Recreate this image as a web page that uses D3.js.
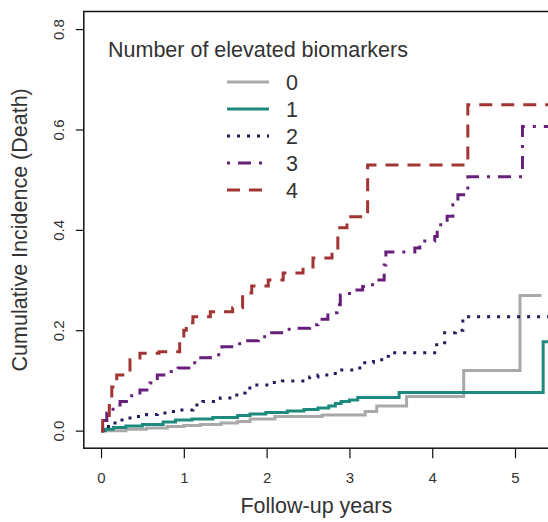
<!DOCTYPE html>
<html>
<head>
<meta charset="utf-8">
<script src="https://cdn.jsdelivr.net/npm/d3@7"></script>
<style>
  html, body { margin: 0; padding: 0; background: #ffffff; }
  svg { display: block; }
  text { font-family: "Liberation Sans", Arial, sans-serif; }
</style>
</head>
<body>
<svg id="chart" width="548" height="522"></svg>
<script>
// ---------------- data ----------------
const groupLabels = ["0", "1", "2", "3", "4"];
const legendTitle = "Number of elevated biomarkers";
const xTicks = [0, 1, 2, 3, 4, 5];
const yTicks = [0, 0.2, 0.4, 0.6, 0.8];
const xTitle = "Follow-up years";
const yTitle = "Cumulative Incidence (Death)";

// group 0 (grey)
const times0 = [0, 0.3, 0.55, 0.8, 1.0, 1.2, 1.45, 1.65, 1.8, 2.1, 2.67, 3.19, 3.33, 3.69, 4.38, 5.06, 5.32];
const cif0   = [0, 0.003, 0.005, 0.008, 0.010, 0.012, 0.015, 0.018, 0.023, 0.028, 0.031, 0.038, 0.049, 0.068, 0.120, 0.269, 0.269];
// group 1 (teal)
const times1 = [0, 0.05, 0.15, 0.3, 0.5, 0.75, 0.9, 1.1, 1.35, 1.65, 1.8, 1.99, 2.25, 2.45, 2.62, 2.75, 2.83, 2.9, 3.0, 3.1, 3.6, 5.34, 5.6];
const cif1   = [0, 0.003, 0.006, 0.009, 0.012, 0.017, 0.021, 0.023, 0.026, 0.030, 0.033, 0.036, 0.039, 0.042, 0.045, 0.049, 0.054, 0.058, 0.061, 0.066, 0.076, 0.177, 0.177];
// group 2 (navy, dotted)
const times2 = [0, 0.05, 0.11, 0.23, 0.33, 0.43, 0.55, 0.68, 0.8, 0.92, 1.11, 1.23, 1.44, 1.64, 1.74, 1.82, 2.07, 2.19, 2.52, 2.62, 2.77, 2.86, 3.1, 3.16, 3.29, 3.39, 3.47, 4.03, 4.15, 4.28, 4.37, 5.6];
const cif2   = [0, 0.008, 0.015, 0.021, 0.025, 0.028, 0.032, 0.035, 0.038, 0.041, 0.051, 0.058, 0.065, 0.075, 0.085, 0.091, 0.096, 0.099, 0.107, 0.111, 0.114, 0.121, 0.125, 0.135, 0.141, 0.148, 0.155, 0.171, 0.195, 0.200, 0.227, 0.227];
// group 3 (purple, dot-dash)
const times3 = [0, 0.03, 0.07, 0.145, 0.23, 0.37, 0.47, 0.59, 0.68, 0.81, 0.93, 1.1, 1.17, 1.32, 1.46, 1.64, 1.71, 1.9, 2.0, 2.2, 2.32, 2.52, 2.62, 2.74, 2.85, 2.89, 3.0, 3.16, 3.28, 3.42, 3.44, 3.79, 3.85, 4.03, 4.06, 4.18, 4.25, 4.31, 4.43, 5.09, 5.6];
const cif3   = [0, 0.02, 0.035, 0.051, 0.058, 0.075, 0.081, 0.095, 0.111, 0.118, 0.125, 0.135, 0.145, 0.151, 0.167, 0.173, 0.179, 0.187, 0.195, 0.202, 0.204, 0.211, 0.222, 0.235, 0.251, 0.27, 0.28, 0.287, 0.30, 0.33, 0.356, 0.364, 0.378, 0.387, 0.41, 0.427, 0.45, 0.47, 0.506, 0.606, 0.606];
// group 4 (red, dashed)
const times4 = [0, 0.02, 0.1, 0.13, 0.19, 0.35, 0.47, 0.7, 0.95, 1.0, 1.03, 1.11, 1.32, 1.59, 1.71, 1.82, 2.02, 2.2, 2.44, 2.56, 2.79, 2.86, 2.97, 3.16, 3.22, 4.43, 5.6];
const cif4   = [0, 0.025, 0.05, 0.087, 0.111, 0.141, 0.154, 0.157, 0.177, 0.2, 0.215, 0.227, 0.237, 0.245, 0.274, 0.288, 0.30, 0.314, 0.326, 0.344, 0.36, 0.404, 0.426, 0.436, 0.529, 0.649, 0.649];

// ---------------- styles ----------------
const colors = ["#a9a9a9", "#1e8a7e", "#1c1c5e", "#66207a", "#a33434"];
const dashes = [null, null, "3,7", "3,8,13,8", "13,9"];

// ---------------- drawing ----------------
const svg = d3.select("#chart");
const box = { left: 83.8, right: 548.8, top: 11.5, bottom: 448.2 };

const x = d3.scaleLinear().domain([-0.208, 5.408]).range([box.left, box.right]);
const y = d3.scaleLinear().domain([-0.035, 0.835]).range([box.bottom, box.top]);

svg.append("defs").append("clipPath").attr("id", "plotclip")
  .append("rect").attr("x", box.left).attr("y", box.top)
  .attr("width", box.right - box.left).attr("height", box.bottom - box.top);

const allTimes = [times0, times1, times2, times3, times4];
const allCif = [cif0, cif1, cif2, cif3, cif4];
const series = groupLabels.map((g, i) => ({
  label: g,
  pts: allTimes[i].map((t, j) => [t, allCif[i][j]]),
  color: colors[i],
  dash: dashes[i]
}));

const line = d3.line().x(d => x(d[0])).y(d => y(d[1])).curve(d3.curveStepAfter);

const plot = svg.append("g").attr("clip-path", "url(#plotclip)");
plot.selectAll("path.cif").data(series).join("path")
  .attr("class", "cif")
  .attr("d", d => line(d.pts))
  .attr("fill", "none")
  .attr("stroke", d => d.color)
  .attr("stroke-width", 3)
  .attr("stroke-dasharray", d => d.dash)
  .attr("stroke-linecap", "butt");

// box
svg.append("rect")
  .attr("x", box.left).attr("y", box.top)
  .attr("width", box.right - box.left).attr("height", box.bottom - box.top)
  .attr("fill", "none").attr("stroke", "#111").attr("stroke-width", 1.5);

// x axis
const gx = svg.append("g").attr("transform", `translate(0,${box.bottom})`)
  .call(d3.axisBottom(x).tickValues(xTicks).tickSize(10).tickFormat(d3.format("d")));
gx.select(".domain").remove();
gx.selectAll(".tick line").attr("stroke", "#111").attr("stroke-width", 1.2);
gx.selectAll(".tick text").attr("y", 35).attr("dy", 0)
  .attr("font-size", 15).attr("fill", "#333")
  .style("font-family", "'Liberation Sans', Arial, sans-serif");

// y axis
const gy = svg.append("g").attr("transform", `translate(${box.left},0)`)
  .call(d3.axisLeft(y).tickValues(yTicks).tickSize(8).tickFormat(d3.format(".1f")));
gy.select(".domain").remove();
gy.selectAll(".tick line").attr("stroke", "#111").attr("stroke-width", 1.2);
gy.selectAll(".tick text")
  .attr("x", 0).attr("y", 0).attr("dy", 0)
  .attr("transform", "translate(-20,0) rotate(-90)")
  .attr("text-anchor", "middle")
  .attr("font-size", 15).attr("fill", "#333")
  .style("font-family", "'Liberation Sans', Arial, sans-serif");

// axis titles
svg.append("text")
  .attr("x", (box.left + box.right) / 2).attr("y", 513)
  .attr("text-anchor", "middle").attr("font-size", 21.5).attr("fill", "#333")
  .text(xTitle);
svg.append("text")
  .attr("transform", `translate(27,${(box.top + box.bottom) / 2}) rotate(-90)`)
  .attr("text-anchor", "middle").attr("font-size", 21.5).attr("fill", "#333")
  .text(yTitle);

// legend
const lg = svg.append("g");
lg.append("text").attr("x", 258).attr("y", 56.5)
  .attr("text-anchor", "middle").attr("font-size", 21.5).attr("fill", "#333")
  .text(legendTitle);
const rows = lg.selectAll("g.row").data(series).join("g")
  .attr("class", "row")
  .attr("transform", (d, i) => `translate(0,${82 + i * 27})`);
rows.append("line")
  .attr("x1", 227).attr("x2", 269).attr("y1", 0).attr("y2", 0)
  .attr("stroke", d => d.color).attr("stroke-width", 3)
  .attr("stroke-dasharray", d => d.dash);
rows.append("text")
  .attr("x", 286).attr("y", 7.7)
  .attr("font-size", 21.5).attr("fill", "#333")
  .text(d => d.label);
</script>
</body>
</html>
